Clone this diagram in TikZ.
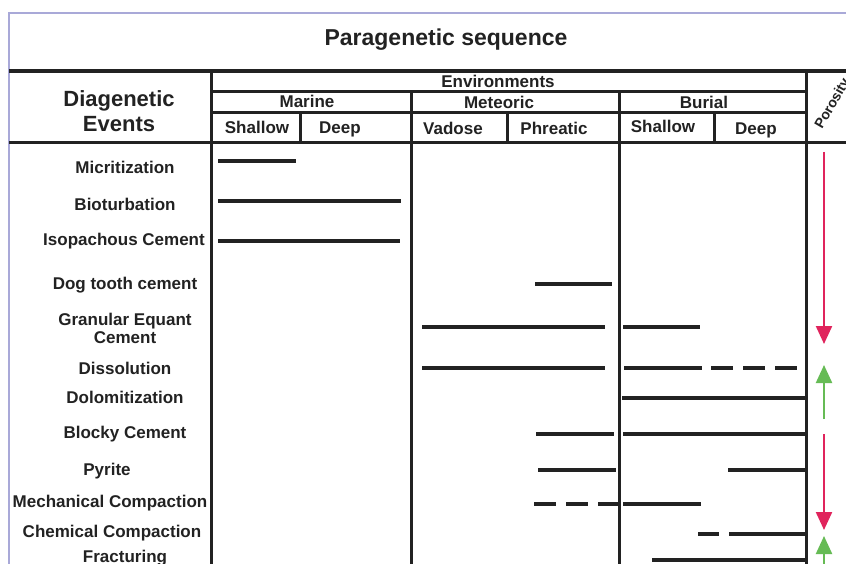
\documentclass[tikz,border=0pt]{standalone}
\usepackage{fontspec}
\setmainfont{Liberation Sans}
\usetikzlibrary{arrows.meta}
\definecolor{framelav}{HTML}{A9A9D8}
\definecolor{gridline}{HTML}{222222}
\definecolor{porred}{HTML}{E0245C}
\definecolor{porgreen}{HTML}{66BB55}

\begin{document}
\begin{tikzpicture}[x=1pt,y=-1pt,
    grid/.style={draw=gridline,line width=3pt},
    evline/.style={draw=gridline,line width=3.2pt},
    evdash/.style={evline,dash pattern=on 22pt off 10pt},
    hd/.style={font=\fontsize{17}{18}\selectfont\bfseries,text=gridline,anchor=base,inner sep=0},
    ev/.style={hd,align=center},
    poro/.style={line width=2.2pt,-{Triangle[width=16pt,length=18pt]}}]
    \useasboundingbox[fill=white] (0,0) rectangle (846,564);

    % frame and grid
    \draw[framelav,line width=2pt] (9,564) -- (9,13) -- (846,13);
    \draw[grid,line width=3.6pt] (9,71) -- (846,71);
    \draw[grid] (9,143) -- (846,143);
    \draw[grid] (211,92) -- (806,92);
    \draw[grid] (211,113) -- (806,113);
    \draw[grid] (211,71) -- (211,564);
    \draw[grid] (806,71) -- (806,564);
    \draw[grid] (411,92) -- (411,564);
    \draw[grid] (619,92) -- (619,564);
    \draw[grid] (300,113) -- (300,143);
    \draw[grid] (507,113) -- (507,143);
    \draw[grid] (714,113) -- (714,143);

    % headings
    \node(title)[hd,font=\fontsize{23}{26}\selectfont\bfseries] at (446,46) {Paragenetic sequence};
    \node(diag)[hd,font=\fontsize{22}{25}\selectfont\bfseries] at (119,107) {Diagenetic};
    \node(evts)[hd,font=\fontsize{22}{25}\selectfont\bfseries] at (119,132) {Events};
    \node(env)[hd] at (498,88) {Environments};
    \node(mar)[hd] at (307,108) {Marine};
    \node(met)[hd] at (499,109) {Meteoric};
    \node(bur)[hd] at (704,109) {Burial};
    \node(msh)[hd] at (257,134) {Shallow};
    \node(mdp)[hd] at (340,134) {Deep};
    \node(vad)[hd] at (453,135) {Vadose};
    \node(phr)[hd] at (554,135) {Phreatic};
    \node(bsh)[hd] at (663,133) {Shallow};
    \node(bdp)[hd] at (756,135) {Deep};
    \node(por)[hd,font=\fontsize{14}{16}\selectfont\bfseries,anchor=base west,rotate=60] at (822,130) {Porosity};

    % events
    \node(mic)[ev] at (125,174) {Micritization};
    \node(bio)[ev] at (125,211) {Bioturbation};
    \node(iso)[ev] at (124,246) {Isopachous Cement};
    \node(dog)[ev] at (125,289) {Dog tooth cement};
    \node(gra)[ev] at (125,343) {Granular Equant\\Cement};
    \node(dis)[ev] at (125,374) {Dissolution};
    \node(dol)[ev] at (125,403) {Dolomitization};
    \node(blo)[ev] at (125,438) {Blocky Cement};
    \node(pyr)[ev] at (107,475) {Pyrite};
    \node(mec)[ev] at (110,507) {Mechanical Compaction};
    \node(che)[ev] at (112,537) {Chemical Compaction};
    \node(fra)[ev] at (125,562) {Fracturing};

    % ranges
    \draw[evline] (218,161) -- (296,161);
    \draw[evline] (218,201) -- (401,201);
    \draw[evline] (218,241) -- (400,241);
    \draw[evline] (535,284) -- (612,284);
    \draw[evline] (422,327) -- (605,327);
    \draw[evline] (623,327) -- (700,327);
    \draw[evline] (422,368) -- (605,368);
    \draw[evline] (624,368) -- (702,368);
    \draw[evdash] (711,368) -- (797,368);
    \draw[evline] (622,398) -- (806,398);
    \draw[evline] (536,434) -- (614,434);
    \draw[evline] (623,434) -- (806,434);
    \draw[evline] (538,470) -- (616,470);
    \draw[evline] (728,470) -- (806,470);
    \draw[evdash] (534,504) -- (618,504);
    \draw[evline] (623,504) -- (701,504);
    \draw[evdash] (698,534) -- (719,534);
    \draw[evline] (729,534) -- (806,534);
    \draw[evline] (652,560) -- (806,560);

    % porosity trend
    \coordinate(p1) at (824,152);
    \coordinate(p2) at (824,344);
    \coordinate(p3) at (824,419);
    \coordinate(p4) at (824,365);
    \coordinate(p5) at (824,434);
    \coordinate(p6) at (824,530);
    \coordinate(p7) at (824,566);
    \coordinate(p8) at (824,536);
    \draw[poro,porred] (p1) -- (p2);
    \draw[poro,porgreen] (p3) -- (p4);
    \draw[poro,porred] (p5) -- (p6);
    \draw[poro,porgreen] (p7) -- (p8);
\end{tikzpicture}
\end{document}
